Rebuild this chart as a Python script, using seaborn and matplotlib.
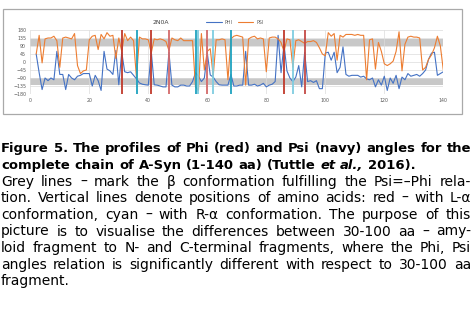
import matplotlib
matplotlib.use("Agg")
import matplotlib.pyplot as plt
import pandas as pd
import seaborn as sns
from matplotlib.patches import Rectangle

# ---------------- data ----------------
residues = list(range(2, 141))
phi = [45, -60, -155, -90, -105, -90, -100, 60, -70,
       -70, -155, -70, -90, -100, -80, -75, -65, -65, -65,
       -135, -75, -105, -160, 60, -40, -50, -70, 65, -128,
       55, -55, -60, -55, -75, -95, -118, -125, -128, -130,
       60, -128, -130, -135, -140, -140, 55, -130, -140, -140,
       -130, -130, -135, -135, -110, -60, -80, -110, -90, 50,
       -73, -85, -110, -128, -130, -130, -130, -70, -135, -135,
       -130, -130, 60, -130, -130, -125, -135, -130, -120, -140,
       -130, -125, -110, 150, -60, 100, -50, -90, -110, -85,
       -20, -140, 55, -110, -105, -115, -105, -150, -150, 50,
       55, 10, 55, -60, -30, 85, -70, -80, -75, -75,
       -75, -85, -80, -95, -100, -90, -140, -100, -130, -80,
       -160, -90, -120, -75, -150, -85, -100, -65, -80, -75,
       -70, -80, -65, -45, 15, 50, 55, -75, -65, -55]
psi = [45, 150, -5, 130, 135, 135, 145, 120, -30,
       135, 140, 135, 130, 160, -20, -65, -50, -45, 125,
       145, 150, 70, 155, 130, 165, 145, 150, 20, 135,
       60, 160, 120, 140, 120, -90, 140, 130, 130, 125,
       50, 130, 125, 130, 125, 115, 65, 135, 125, 120,
       135, 120, 120, 120, 120, -140, -160, 160, -45, 60,
       75, -80, 125, 125, 130, 125, -100, 130, 145, 150,
       145, 140, -130, 130, 140, 145, 130, 135, 130, -55,
       135, 140, 140, 130, 110, 60, 130, 125, -30, 120,
       125, 115, 105, 115, 115, 120, 110, 80, 45, 35,
       165, 145, 160, 10, 150, 140, 155, 155, 155, 150,
       155, 150, 150, -100, 125, 130, -40, 110, 60, -10,
       -20, -10, 5, 60, 170, -50, 100, 140, 145, 140,
       140, 135, -45, -30, 15, 40, 80, 145, 90, -45]
series_names = ["PHI", "PSI"]
l_alpha_pos = [31, 41, 47, 60, 86, 93]
l_alpha_col = ["#c0392b", "#c0392b", "#d46a6a", "#d46a6a", "#c0392b", "#c44a45"]
r_alpha_pos = [36, 56, 57, 62, 68, 89]
r_alpha_col = ["#1fa2bf", "#1fa2bf", "#7fcde0", "#7fcde0", "#1fa2bf", "#7fcde0"]
beta_bands = [(90, 130), (-130, -90)]
title = "2N0A"

caption_bold = ["Figure 5. The profiles of Phi (red) and Psi (navy) angles for the"]
caption_bold_last = [("complete", ""), ("chain", ""), ("of", ""), ("A-Syn", ""),
                     ("(1-140", ""), ("aa)", ""), ("(Tuttle", ""), ("et", "i"),
                     ("al.,", "i"), ("2016).", "")]
caption_body = [
    "Grey lines \u2013 mark the \u03b2 conformation fulfilling the Psi=\u2013Phi rela-",
    "tion. Vertical lines denote positions of amino acids: red \u2013 with L-\u03b1",
    "conformation, cyan \u2013 with R-\u03b1 conformation. The purpose of this",
    "picture is to visualise the differences between 30-100 aa \u2013 amy-",
    "loid fragment to N- and C-terminal fragments, where the Phi, Psi",
    "angles relation is significantly different with respect to 30-100 aa",
]
caption_last = "fragment."

# ---------------- figure ----------------
W, H = 472, 314
sns.set_style("white")
plt.rcParams["font.family"] = ["DejaVu Sans"]
fig = plt.figure(figsize=(W / 100, H / 100), dpi=100)

# outer chart frame
fig.patches.append(Rectangle((3 / W, 1 - 114 / H), 459 / W, 105 / H,
                             transform=fig.transFigure, fill=False,
                             edgecolor="#a9a9a9", lw=0.9))

ax = fig.add_axes([30.3 / W, (H - 94) / H, 413 / W, 64 / H])
for lo, hi in beta_bands:
    ax.axhspan(lo, hi, color="#c8c8c8", lw=0, zorder=0.5)

df = pd.DataFrame({
    "res": residues * 2,
    "angle": phi + psi,
    "series": [series_names[0]] * len(residues) + [series_names[1]] * len(residues),
})
sns.lineplot(data=df, x="res", y="angle", hue="series",
             palette={"PHI": "#4472C4", "PSI": "#ED7D31"},
             lw=0.8, ax=ax, zorder=2, estimator=None)

for p, c in zip(l_alpha_pos, l_alpha_col):
    ax.axvline(p, color=c, lw=1.3, zorder=3)
for p, c in zip(r_alpha_pos, r_alpha_col):
    ax.axvline(p, color=c, lw=1.3, zorder=3)

ax.set_xlim(0, 140)
ax.set_ylim(-180, 180)
ax.set_xticks(range(0, 141, 20))
ax.set_yticks(range(-180, 181, 45))
ax.grid(True, color="#dcdcdc", lw=0.5, zorder=0)
ax.set_axisbelow(True)
for s in ax.spines.values():
    s.set_visible(False)
ax.tick_params(axis="both", length=0, labelsize=3.4, labelcolor="#595959")
ax.tick_params(axis="y", pad=3)
ax.tick_params(axis="x", pad=3)
ax.set_xlabel("")
ax.set_ylabel("")

handles, labels = ax.get_legend_handles_labels()
ax.legend(handles, labels, loc="center", bbox_to_anchor=(235 / W, 1 - 22 / H),
          bbox_transform=fig.transFigure, ncol=2, frameon=False, fontsize=3.4,
          handlelength=3.2, columnspacing=1.3, handletextpad=0.6,
          labelcolor="#595959")
fig.text(161 / W, 1 - 22 / H, title, ha="center", va="center", fontsize=4.4,
         color="#404040")

# ---------------- caption (justified) ----------------
fig.canvas.draw()
renderer = fig.canvas.get_renderer()
FAM = ["DejaVu Sans"]
LEFT, RIGHT = 1.0, 471.0


def measure(s, fs, **kw):
    t = fig.text(0, 0, s, fontsize=fs, family=FAM, **kw)
    w = t.get_window_extent(renderer).width
    t.remove()
    return w


def space_w(fs, **kw):
    return measure("a a", fs, **kw) - measure("aa", fs, **kw)


def fit_size(lines, fs_max, min_gap_px):
    fs = fs_max
    while fs > 5:
        ok = True
        for words in lines:
            tot = sum(measure(w, fs, **k) for w, k in words)
            tot += (len(words) - 1) * min_gap_px
            if tot > RIGHT - LEFT:
                ok = False
                break
        if ok:
            return fs
        fs -= 0.05
    return fs


def place(words, baseline, justify, fs):
    widths = [measure(w, fs, **k) for w, k in words]
    if justify and len(words) > 1:
        gap = (RIGHT - LEFT - sum(widths)) / (len(words) - 1)
    else:
        gap = space_w(fs, **words[0][1])
    x = LEFT
    for (w, k), wd in zip(words, widths):
        fig.text(x / W, 1 - baseline / H, w, fontsize=fs, family=FAM,
                 va="baseline", ha="left", color="black", **k)
        x += wd + gap


bold = {"fontweight": "bold"}
bold_lines = [[(w, bold) for w in caption_bold[0].split()]]
body_lines = [[(w, {}) for w in line.split()] for line in caption_body]

fs_body = fit_size(body_lines, 10.0, 5.5)
fs_bold = fit_size(bold_lines, fs_body, 4.5)

y0, dy = 152.5, 16.6
place(bold_lines[0], y0, True, fs_bold)
words2 = []
for w, st in caption_bold_last:
    k = dict(bold)
    if st == "i":
        k["fontstyle"] = "italic"
    words2.append((w, k))
place(words2, y0 + dy, False, fs_bold)
for i, words in enumerate(body_lines):
    place(words, y0 + dy * (2 + i), True, fs_body)
place([(caption_last, {})], y0 + dy * 8, False, fs_body)

fig.savefig("out.png", dpi=100)
